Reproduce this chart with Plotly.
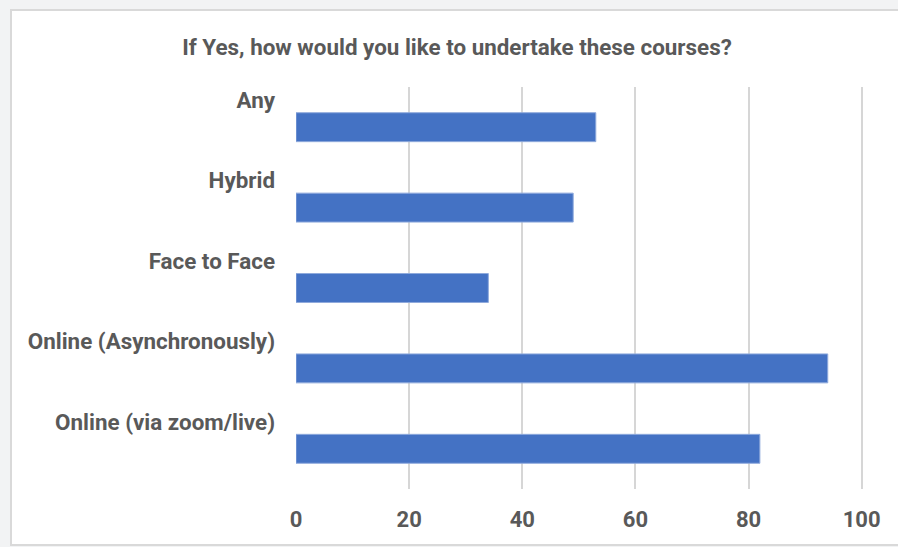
import plotly.graph_objects as go

categories = ["Online (via zoom/live)", "Online (Asynchronously)", "Face to Face", "Hybrid", "Any"]
values = [82, 94, 34, 49, 53]
x_ticks = [0, 20, 40, 60, 80, 100]

W, H = 898, 547
ML, MR, MT, MB = 296, 25, 87, 58
XMAX = 102

fig = go.Figure(go.Bar(
    y=categories, x=values, orientation="h",
    marker=dict(color="#4472C4", line=dict(color="#8faadc", width=1)),
    hoverinfo="x+y",
))

pw = W - ML - MR
ph = H - MT - MB
def px_x(p):
    return (p - ML) / pw
def px_y(p):
    return 1 - (p - MT) / ph

fig.add_shape(type="rect", xref="paper", yref="paper", layer="below",
              x0=px_x(11), x1=px_x(W + 20), y0=px_y(545), y1=px_y(10),
              line=dict(color="#d9d9d9", width=2), fillcolor="white")

fig.update_layout(
    width=W, height=H,
    margin=dict(l=ML, r=MR, t=MT, b=MB, pad=0),
    paper_bgcolor="#f2f3f4", plot_bgcolor="rgba(0,0,0,0)",
    font=dict(family="Roboto", color="#595959"),
    title=dict(text="<b>If Yes, how would you like to undertake these courses?</b>",
               x=(457) / W, xanchor="center", y=1 - 47 / H, yanchor="middle",
               font=dict(size=22.4, family="Roboto", color="#595959")),
    bargap=0.64,
    showlegend=False,
    xaxis=dict(range=[0, XMAX], tickvals=x_ticks,
               ticktext=["<b>%d</b>" % v for v in x_ticks],
               showgrid=True, gridcolor="#d6d6d6", gridwidth=1.5,
               zeroline=False, showline=False, ticks="",
               ticklabelstandoff=15,
               tickfont=dict(size=22, family="Roboto", color="#595959"),
               fixedrange=True),
    yaxis=dict(categoryorder="array", categoryarray=categories,
               showgrid=False, zeroline=False, showline=False, ticks="",
               ticklabelstandoff=20, ticklabelshift=-27,
               tickprefix="<b>", ticksuffix="</b>",
               tickfont=dict(size=22.4, family="Roboto", color="#595959"),
               fixedrange=True),
)

fig.write_html("out.html", config={"displayModeBar": False},
               post_script="document.body.style.margin='0';")
